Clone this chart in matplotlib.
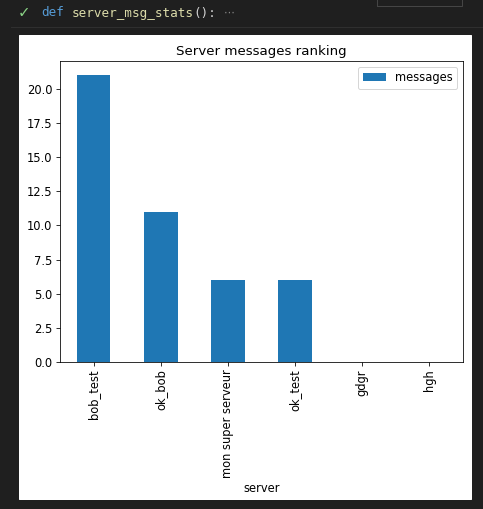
import matplotlib
matplotlib.use("Agg")
import matplotlib.pyplot as plt
import pandas as pd
from matplotlib.patches import Rectangle

servers = ["bob_test", "ok_bob", "mon super serveur", "ok_test", "gdgr", "hgh"]
messages = [21, 11, 6, 6, 0, 0]

plt.rcParams["font.size"] = 11.5
plt.rcParams["axes.titlesize"] = 13.4
plt.rcParams["xtick.major.size"] = 4
plt.rcParams["ytick.major.size"] = 4

W, H = 483, 509
fig = plt.figure(figsize=(W / 72, H / 72), dpi=72, facecolor="#1f1f1f")

# white output cell (behind the axes)
fig.patches.append(Rectangle((19 / W, 1 - 499 / H), 452 / W, 464 / H,
                             transform=fig.transFigure, color="white", zorder=-1))
# top-right box outline and separator line
fig.patches.append(Rectangle((377 / W, 1 - 6 / H), 85 / W, 10 / H, transform=fig.transFigure,
                             fill=False, edgecolor="#454545", lw=1, zorder=-1))
fig.add_artist(plt.Line2D([11 / W, 1], [1 - 27 / H] * 2, transform=fig.transFigure,
                          color="#2f2f2f", lw=1, zorder=-1))

# cell header
y_hdr = 1 - 13 / H
fig.text(18 / W, y_hdr, "\u2713", color="#89d185", fontsize=15, va="center")
cw = 7.6
x0 = 41
mono = dict(family="DejaVu Sans Mono", fontsize=12.6, va="center")
fig.text(x0 / W, y_hdr, "def", color="#569cd6", **mono)
fig.text((x0 + 4 * cw) / W, y_hdr, "server_msg_stats", color="#dcdcaa", **mono)
fig.text((x0 + 20 * cw) / W, y_hdr, "():", color="#d4d4d4", **mono)
fig.text((x0 + 23 * cw + 8) / W, y_hdr, "\u22ef", color="#8a8a8a", fontsize=11, va="center")

ax = fig.add_axes([60 / W, 1 - 362 / H, 403 / W, 301 / H])
df = pd.DataFrame({"server": servers, "messages": messages}).set_index("server")
df.plot(kind="bar", ax=ax, title="Server messages ranking")

fig.savefig("out.png", dpi=72, facecolor=fig.get_facecolor())
